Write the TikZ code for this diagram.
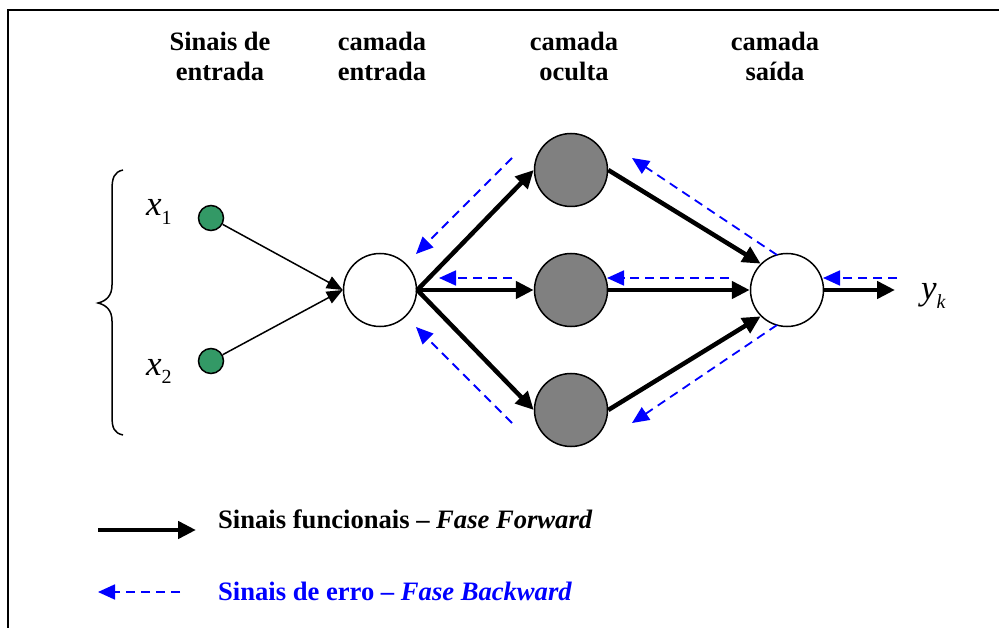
\documentclass[tikz,border=0pt]{standalone}
\usepackage{fontspec}
\setmainfont{Liberation Serif}
\usetikzlibrary{arrows.meta}
\definecolor{nodegreen}{RGB}{51,153,102}
\definecolor{nodegray}{RGB}{128,128,128}
\definecolor{errblue}{RGB}{0,0,255}
\begin{document}
\begin{tikzpicture}[x=1pt,y=-1pt,
  hdr/.style={font=\fontsize{26.5}{30}\selectfont\bfseries, align=center, inner sep=0pt, anchor=north},
  legtext/.style={font=\fontsize{26.6}{30}\selectfont\bfseries, inner sep=0pt, anchor=base west},
  dot/.style={circle, draw, line width=1.5pt, fill=nodegreen, minimum size=25pt, inner sep=0pt},
  neuron/.style={circle, draw, line width=1.5pt, minimum size=73pt, inner sep=0pt},
  fwdthin/.style={line width=1.5pt, -{Triangle[length=16pt,width=13pt]}},
  fwd/.style={line width=4.5pt, -{Triangle[length=18pt,width=17pt]}},
  bwd/.style={errblue, line width=1.8pt, dash pattern=on 9pt off 6pt, -{Triangle[length=17pt,width=15pt]}},
  varlabel/.style={inner sep=0pt, anchor=base west, font=\fontsize{35}{35}\selectfont\itshape}
]
\useasboundingbox (0,0) rectangle (999,628);
% frame
\draw[line width=2.7pt] (8,628) -- (8,10) -- (999,10);

% headers
\node[hdr] (h_sinais) at (220,32) {Sinais de\\entrada};
\node[hdr] (h_entrada) at (382,32) {camada\\entrada};
\node[hdr] (h_oculta) at (574,32) {camada\\oculta};
\node[hdr] (h_saida) at (775,32) {camada\\saída};

% nodes
\node[dot] (x1) at (211,218) {};
\node[dot] (x2) at (211,361) {};
\node[neuron, fill=white] (in) at (380,290) {};
\node[neuron, fill=nodegray] (hA) at (571,170) {};
\node[neuron, fill=nodegray] (hB) at (571,290) {};
\node[neuron, fill=nodegray] (hC) at (571,410) {};
\node[neuron, fill=white] (out) at (787,290) {};

% labels
\node[varlabel] (lx1) at (146,216) {x\raisebox{-9pt}{\fontsize{20}{20}\selectfont\upshape 1}};
\node[varlabel] (lx2) at (146,376) {x\raisebox{-8pt}{\fontsize{20}{20}\selectfont\upshape 2}};
\node[varlabel] (ly) at (921,300) {y\raisebox{-9pt}{\fontsize{20}{20}\selectfont k}};

% brace
\draw[line width=1.5pt] (123,170) .. controls (114,172) and (112,178) .. (112,190)
  -- (112,285) .. controls (112,296) and (106,301) .. (98,303)
  .. controls (106,305) and (112,310) .. (112,321)
  -- (112,416) .. controls (112,428) and (114,433) .. (123,435);

% input arrows
\draw[fwdthin] (x1) -- (in.west);
\draw[fwdthin] (x2) -- (in.west);

% forward arrows
\draw[fwd] (in.east) -- (hA.west);
\draw[fwd] (in.east) -- (hB.west);
\draw[fwd] (in.east) -- (hC.west);
\draw[fwd] (hA.east) -- (out.135);
\draw[fwd] (hB.east) -- (out.west);
\draw[fwd] (hC.east) -- (out.225);
\coordinate (yend) at (895,290);
\draw[fwd] (out.east) -- (yend);

% backward arrows
\coordinate (b1s) at (512,158); \coordinate (b1e) at (416,254);
\coordinate (b2s) at (512,278); \coordinate (b2e) at (439,278);
\coordinate (b3s) at (512,423); \coordinate (b3e) at (416,327);
\coordinate (b4s) at (777,255); \coordinate (b4e) at (632,158);
\coordinate (b5s) at (729,278); \coordinate (b5e) at (607,278);
\coordinate (b6s) at (777,325); \coordinate (b6e) at (632,423);
\coordinate (b7s) at (897,278); \coordinate (b7e) at (823,278);
\draw[bwd] (b1s) -- (b1e);
\draw[bwd] (b2s) -- (b2e);
\draw[bwd] (b3s) -- (b3e);
\draw[bwd] (b4s) -- (b4e);
\draw[bwd] (b5s) -- (b5e);
\draw[bwd] (b6s) -- (b6e);
\draw[bwd] (b7s) -- (b7e);

% legend
\coordinate (l1s) at (98,530); \coordinate (l1e) at (196,530);
\draw[fwd] (l1s) -- (l1e);
\node[legtext] (leg1) at (218,528) {Sinais funcionais -- \textit{Fase Forward}};
\coordinate (l2s) at (180,592); \coordinate (l2e) at (98,592);
\draw[bwd] (l2s) -- (l2e);
\node[legtext, text=errblue] (leg2) at (218,600) {Sinais de erro -- \textit{Fase Backward}};
\end{tikzpicture}
\end{document}
